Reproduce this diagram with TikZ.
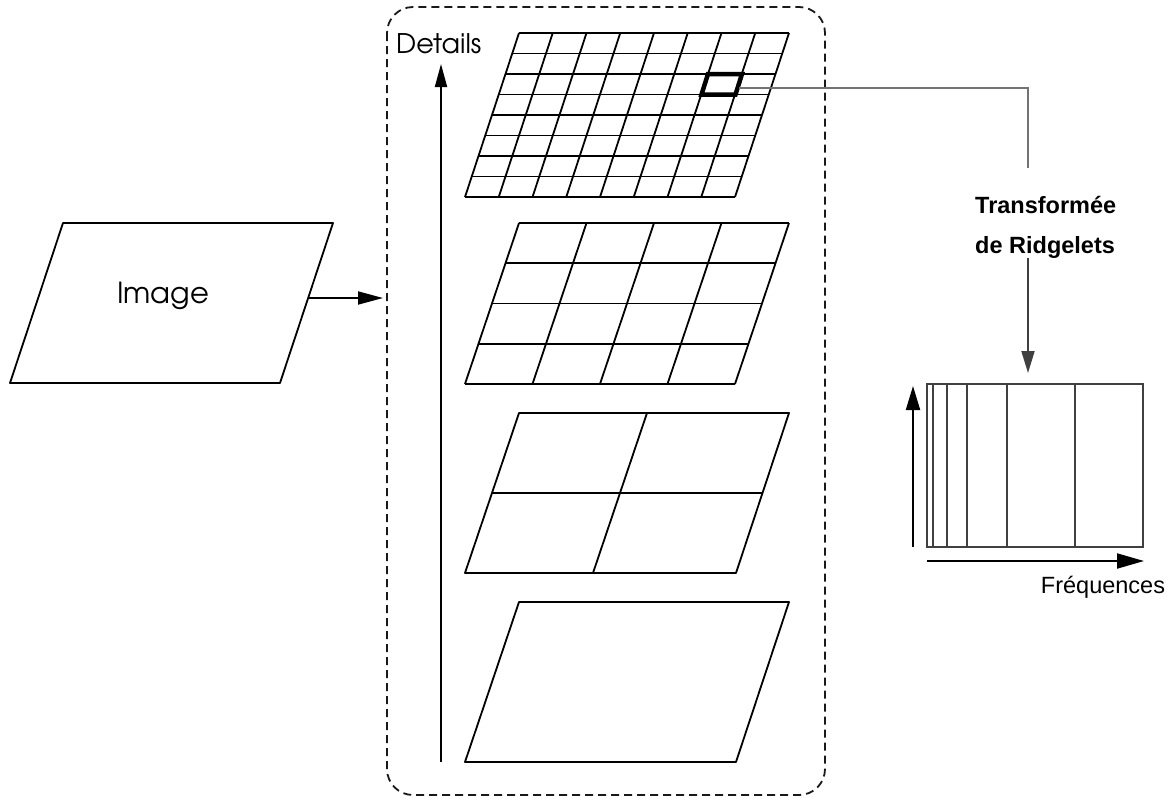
\documentclass[tikz,border=0pt]{standalone}
\usepackage{fontspec}
\setmainfont{Liberation Sans}
\newfontfamily\geo{TeX Gyre Adventor}
\usetikzlibrary{arrows.meta}
\newcommand{\slgrid}[4]{%
  \foreach \i in {0,...,#3} {\draw[gridline] ({519+270*\i/#3},#1) -- ({465+270*\i/#3},{#1+#2});}
  \foreach \j in {0,...,#4} {\draw[gridline] ({519-54*\j/#4},{#1+#2*\j/#4}) -- ({789-54*\j/#4},{#1+#2*\j/#4});}
}
\begin{document}
\begin{tikzpicture}[x=1pt,y=-1pt,
  gridline/.style={line width=1.8pt, line join=round, black},
  thickbox/.style={line width=4.5pt, line join=miter, black},
  conn/.style={line width=1.9pt, black!55},
  arr/.style={line width=1.8pt, black, -{Triangle[length=25pt,width=13pt]}},
  dashbox/.style={line width=1.8pt, black!90, dash pattern=on 8pt off 5pt, rounded corners=26pt},
  boxline/.style={line width=2pt, black!75},
  geotext/.style={font=\geo\fontsize{#1}{#1}\selectfont, inner sep=0pt},
  lbl/.style={inner sep=0pt}
]
\useasboundingbox (0,0) rectangle (1171,798);

% dashed container
\draw[dashbox] (387,7) rectangle (825,795);

% Image parallelogram
\draw[gridline] (63,223) -- (333,223) -- (280,383) -- (10,383) -- cycle;
\node[geotext=29, anchor=base] (img) at (163,303) {Image};
\coordinate (imgE) at (308,298);
\coordinate (contW) at (383,298);
\draw[arr] (imgE) -- (contW);

% Details axis
\node[geotext=27, anchor=base west] (det) at (396,53) {Details};
\coordinate (detB) at (441,762);
\coordinate (detT) at (441,64);
\draw[arr, -{Triangle[length=23pt,width=12pt]}] (detB) -- (detT);

% grids
\slgrid{33}{164}{8}{8}
\slgrid{223}{161}{4}{4}
% 2x2 grid
\draw[gridline] (519,413) -- (789,413) -- (736,573) -- (465,573) -- cycle;
\draw[gridline] (492,493) -- (762,493);
\draw[gridline] (647,413) -- (593,573);
% 1x1
\draw[gridline] (519,602) -- (789,602) -- (736,762) -- (465,762) -- cycle;

% highlighted cell
\draw[thickbox] (708,74) -- (742,74) -- (735.5,94.5) -- (701.5,94.5) -- cycle;
\coordinate (cellE) at (739,88);

% connector
\coordinate (bend) at (1028,88);
\coordinate (lblT) at (1028,168);
\draw[conn] (cellE) -- (bend) -- (lblT);
\node[lbl, font=\bfseries\fontsize{23.5}{23.5}\selectfont, anchor=base west] (tr1) at (975,213) {Transformée};
\node[lbl, font=\bfseries\fontsize{23.5}{23.5}\selectfont, anchor=base west] (tr2) at (975,253) {de Ridgelets};
\coordinate (lblB) at (1028,258);
\coordinate (specT) at (1028,373);
\draw[conn, black!75, -{Triangle[length=22pt,width=13pt]}] (lblB) -- (specT);

% spectrum box
\draw[boxline] (927,384) rectangle (1143,547);
\foreach \x in {933,947,967,1007,1075} {\draw[boxline] (\x,384) -- (\x,547);}
\coordinate (upB) at (913,547);
\coordinate (upT) at (913,386);
\draw[boxline, black, -{Triangle[length=24pt,width=14pt]}] (upB) -- (upT);
\coordinate (rtL) at (927,561);
\coordinate (rtR) at (1144,561);
\draw[boxline, black, -{Triangle[length=27pt,width=15pt]}] (rtL) -- (rtR);
\node[lbl, font=\fontsize{23.5}{23.5}\selectfont, anchor=base] (freq) at (1103,593) {Fréquences};
\end{tikzpicture}
\end{document}
